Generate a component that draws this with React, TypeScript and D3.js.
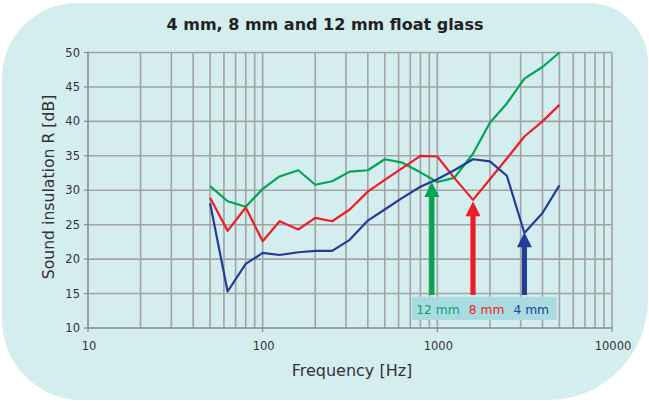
import * as d3 from "d3";

// third-octave band centre frequencies [Hz]
const FREQS = [50, 63, 80, 100, 125, 160, 200, 250, 315, 400, 500, 630, 800, 1000, 1250, 1600, 2000, 2500, 3150, 4000, 5000];

// sound insulation R [dB]
const GLASS_12 = [30.6, 28.4, 27.6, 30.2, 32.0, 32.9, 30.8, 31.3, 32.7, 32.9, 34.5, 34.0, 32.6, 31.2, 31.8, 35.3, 39.8, 42.6, 46.2, 47.9, 50.0];
const GLASS_8 = [28.9, 24.1, 27.5, 22.6, 25.5, 24.3, 26.0, 25.5, 27.2, 29.8, 31.5, 33.2, 35.0, 34.9, 31.8, 28.6, 31.6, 34.6, 37.8, 40.0, 42.4];
const GLASS_4 = [28.1, 15.3, 19.3, 20.9, 20.6, 21.0, 21.2, 21.2, 22.8, 25.6, 27.2, 28.9, 30.5, 31.6, 32.9, 34.5, 34.2, 32.1, 23.8, 26.7, 30.7];

// coincidence dips marked by arrows
const ARROW_FREQ = [930, 1600, 3150];
const ARROW_TIP = [31.2, 28.4, 23.9];
const ARROW_FOOT = 14.8;

const LABELS = ["12 mm", "8 mm", "4 mm"];
const Y_TICKS = [10, 15, 20, 25, 30, 35, 40, 45, 50];
const X_TICKS = [10, 100, 1000, 10000];

const COLORS = ["#00a651", "#ee1c25", "#223c98"];
const LABEL_COLORS = ["#13a070", "#ee1c25", "#2a3f9a"];

const W = 649;
const H = 402;
const PLOT = { left: 88, right: 612, top: 52.5, bottom: 328 };
const GRID = "#a3a3a3";
const FONT = "DejaVu Sans, Verdana, sans-serif";

export default function App() {
  const x = d3.scaleLog().domain([10, 10000]).range([PLOT.left, PLOT.right]);
  const y = d3.scaleLinear().domain([10, 50]).range([PLOT.bottom, PLOT.top]);

  const line = d3
    .line<number>()
    .x((_, i) => x(FREQS[i]))
    .y((d) => y(d));

  const series = [GLASS_12, GLASS_8, GLASS_4];

  // panel with uneven rounded corners
  const panel = [
    "M 77 3",
    "H 588",
    "A 60 60 0 0 1 648 63",
    "V 300",
    "A 100 100 0 0 1 548 400",
    "H 82",
    "A 80 80 0 0 1 2 320",
    "V 78",
    "A 75 75 0 0 1 77 3",
    "Z",
  ].join(" ");

  const boxX = 411.7;
  const boxY = 296.7;

  return (
    <svg
      width={W}
      height={H}
      style={{ position: "absolute", left: 0, top: 0 }}
      fontFamily={FONT}
    >
      <rect width={W} height={H} fill="#ffffff" />
      <path d={panel} fill="#d4edef" />

      <text x={325} y={30} textAnchor="middle" fontSize={16} fontWeight="bold" fill="#222">
        4 mm, 8 mm and 12 mm float glass
      </text>

      {/* grid */}
      {x.ticks().filter((t) => t > 10).map((t) => (
        <line key={"v" + t} x1={x(t)} x2={x(t)} y1={PLOT.top} y2={PLOT.bottom} stroke={GRID} strokeWidth={1.6} />
      ))}
      {Y_TICKS.filter((t) => t > 10).map((t) => (
        <line key={"h" + t} x1={PLOT.left} x2={PLOT.right} y1={y(t)} y2={y(t)} stroke={GRID} strokeWidth={1.6} />
      ))}

      {/* axes */}
      <line x1={PLOT.left} x2={PLOT.left} y1={PLOT.top} y2={PLOT.bottom} stroke="#8a8a8a" strokeWidth={1.6} />
      <line x1={PLOT.left} x2={PLOT.right} y1={PLOT.bottom} y2={PLOT.bottom} stroke="#8a8a8a" strokeWidth={1.6} />
      {Y_TICKS.map((t) => (
        <g key={"yt" + t}>
          <line x1={PLOT.left - 4} x2={PLOT.left} y1={y(t)} y2={y(t)} stroke="#8a8a8a" strokeWidth={1.2} />
          <text x={80} y={y(t) + 4} textAnchor="end" fontSize={11.5} fill="#333">
            {t}
          </text>
        </g>
      ))}
      {X_TICKS.map((t) => (
        <g key={"xt" + t}>
          <line x1={x(t)} x2={x(t)} y1={PLOT.bottom} y2={PLOT.bottom + 4} stroke="#8a8a8a" strokeWidth={1.2} />
          <text x={x(t) + 1} y={350} textAnchor="middle" fontSize={11.5} fill="#333">
            {t}
          </text>
        </g>
      ))}

      <text x={352} y={376} textAnchor="middle" fontSize={16} fill="#333">
        Frequency [Hz]
      </text>
      <text
        transform="translate(54,187) rotate(-90)"
        textAnchor="middle"
        fontSize={15.7}
        fill="#333"
      >
        Sound insulation R [dB]
      </text>

      {/* curves */}
      {series.map((s, i) => (
        <path key={"s" + i} d={line(s) ?? ""} fill="none" stroke={COLORS[i]} strokeWidth={2.2} strokeLinejoin="round" />
      ))}

      {/* arrows */}
      {ARROW_FREQ.map((f, i) => {
        const ax = x(f);
        const tip = y(ARROW_TIP[i]);
        const head = 15;
        return (
          <g key={"a" + i} fill={COLORS[i]}>
            <rect x={ax - 2.6} y={tip + head - 1} width={5.2} height={y(ARROW_FOOT) - tip - head + 1} />
            <path d={`M ${ax} ${tip} L ${ax + 7.5} ${tip + head} L ${ax - 7.5} ${tip + head} Z`} />
          </g>
        );
      })}

      {/* legend */}
      <rect x={boxX} y={boxY} width={145} height={23.3} fill="#a8dce1" />
      <text x={boxX + 4.5} y={boxY + 17} fontSize={12.3}>
        {LABELS.map((l, i) => (
          <tspan key={l} dx={i === 0 ? 0 : 9} fill={LABEL_COLORS[i]}>
            {l}
          </tspan>
        ))}
      </text>
    </svg>
  );
}
